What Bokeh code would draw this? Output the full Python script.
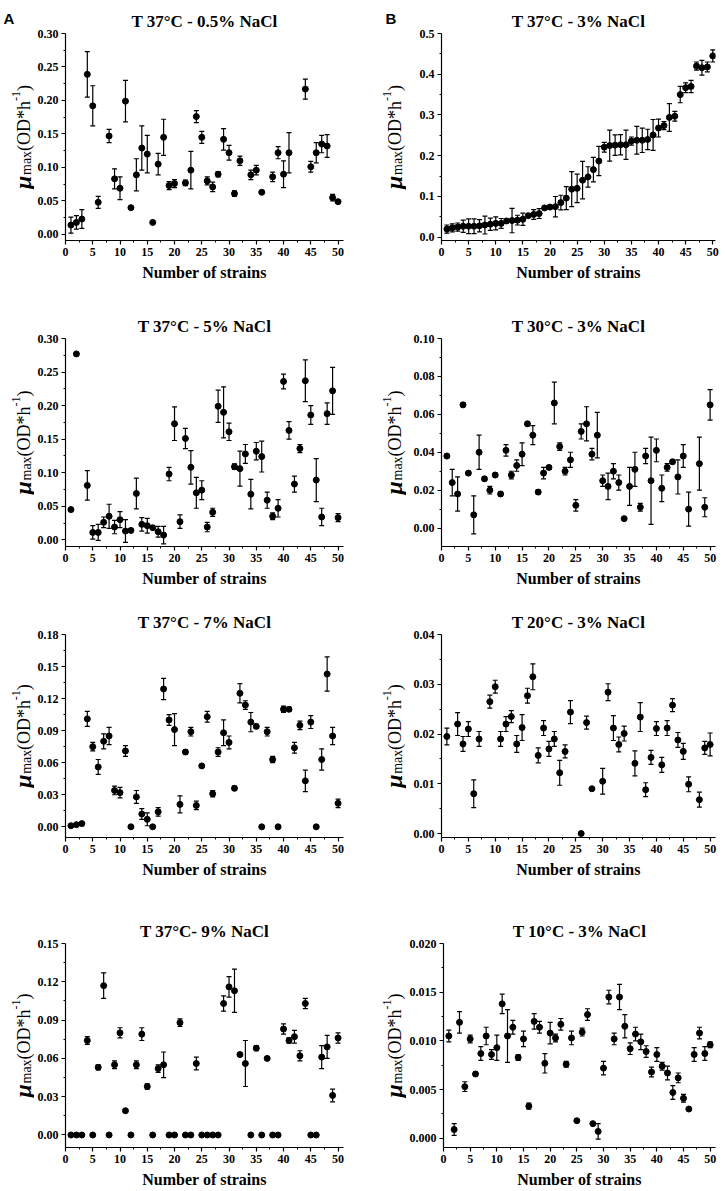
import math
from bokeh.plotting import figure
from bokeh.models import (ColumnDataSource, Whisker, TeeHead, FixedTicker,
                          PrintfTickFormatter, Range1d)
from bokeh.layouts import column, row
from bokeh.core.properties import value
from bokeh.embed import file_html
from bokeh.resources import INLINE

strains = list(range(1, 51))
x_ticks = [0, 5, 10, 15, 20, 25, 30, 35, 40, 45, 50]
x_label = "Number of strains"

# ---------------- A: T 37°C - 0.5% NaCl ----------------
a1_title = "T 37°C - 0.5% NaCl"
a1_mu = [0.014, 0.018, 0.023, 0.239, 0.192, 0.048, None, 0.147, 0.083, 0.069,
         0.199, 0.040, 0.089, 0.129, 0.120, 0.018, 0.105, 0.145, 0.073, 0.076,
         None, 0.077, 0.096, 0.176, 0.145, 0.080, 0.071, 0.090, 0.142, 0.122,
         0.061, 0.110, None, 0.089, 0.096, 0.063, None, 0.086, 0.122, 0.090,
         0.122, None, None, 0.217, 0.101, 0.122, 0.135, 0.132, 0.055, 0.049]
a1_err = [0.012, 0.010, 0.014, 0.034, 0.030, 0.009, None, 0.010, 0.015, 0.017,
          0.031, 0.002, 0.024, 0.033, 0.028, 0.002, 0.016, 0.027, 0.006, 0.006,
          None, 0.004, 0.028, 0.009, 0.009, 0.006, 0.007, 0.004, 0.016, 0.011,
          0.004, 0.007, None, 0.007, 0.007, 0.002, None, 0.007, 0.009, 0.020,
          0.030, None, None, 0.015, 0.008, 0.015, 0.013, 0.017, 0.005, 0.002]
a1_yticks = [0.00, 0.05, 0.10, 0.15, 0.20, 0.25, 0.30]

# ---------------- B: T 37°C - 3% NaCl ----------------
b1_title = "T 37°C - 3% NaCl"
b1_mu = [0.020, 0.023, 0.025, 0.027, 0.027, 0.027, 0.028, 0.030, 0.032, 0.034,
         0.034, 0.040, 0.041, 0.042, 0.044, 0.053, 0.056, 0.058, 0.072, 0.074,
         0.075, 0.085, 0.096, 0.118, 0.120, 0.140, 0.148, 0.166, 0.187, 0.221,
         0.225, 0.226, 0.227, 0.227, 0.236, 0.238, 0.238, 0.240, 0.251, 0.268,
         0.274, 0.294, 0.297, 0.350, 0.367, 0.370, 0.420, 0.416, 0.418, 0.445]
b1_err = [0.010, 0.010, 0.010, 0.015, 0.018, 0.018, 0.015, 0.022, 0.015, 0.016,
          0.012, 0.004, 0.030, 0.012, 0.015, 0.003, 0.012, 0.012, 0.004, 0.004,
          0.025, 0.018, 0.028, 0.043, 0.035, 0.046, 0.025, 0.030, 0.036, 0.012,
          0.038, 0.025, 0.025, 0.036, 0.010, 0.034, 0.030, 0.025, 0.038, 0.022,
          0.010, 0.034, 0.012, 0.020, 0.012, 0.015, 0.010, 0.018, 0.012, 0.015]
b1_yticks = [0.0, 0.1, 0.2, 0.3, 0.4, 0.5]

# ---------------- T 37°C - 5% NaCl ----------------
a2_title = "T 37°C - 5% NaCl"
a2_mu = [0.045, 0.277, None, 0.081, 0.011, 0.011, 0.026, 0.035, 0.019, 0.030,
         0.013, 0.014, 0.069, 0.023, 0.021, 0.018, 0.012, 0.007, 0.098, 0.173,
         0.027, 0.151, 0.108, 0.070, 0.074, 0.019, 0.041, 0.199, 0.190, 0.161,
         0.109, 0.106, 0.128, 0.068, 0.132, 0.124, 0.059, 0.035, 0.047, 0.236,
         0.163, 0.083, 0.136, 0.237, 0.186, 0.089, 0.034, 0.188, 0.222, 0.033]
a2_err = [0.002, 0.002, None, 0.022, 0.010, 0.012, 0.008, 0.018, 0.010, 0.012,
          0.017, 0.002, 0.023, 0.010, 0.011, 0.002, 0.008, 0.013, 0.010, 0.025,
          0.010, 0.015, 0.025, 0.023, 0.014, 0.007, 0.006, 0.024, 0.038, 0.013,
          0.004, 0.026, 0.014, 0.022, 0.013, 0.023, 0.012, 0.005, 0.013, 0.011,
          0.013, 0.012, 0.006, 0.031, 0.014, 0.032, 0.013, 0.016, 0.035, 0.006]
a2_yticks = [0.00, 0.05, 0.10, 0.15, 0.20, 0.25, 0.30]

# ---------------- T 30°C - 3% NaCl ----------------
b2_title = "T 30°C - 3% NaCl"
b2_mu = [0.038, 0.024, 0.018, 0.065, 0.029, 0.007, 0.040, 0.026, 0.020, 0.028,
         0.018, 0.041, 0.028, 0.033, 0.039, 0.055, 0.049, 0.019, 0.029, 0.032,
         0.066, 0.043, 0.030, 0.036, 0.012, 0.051, 0.055, 0.039, 0.049, 0.025,
         0.022, 0.030, 0.024, 0.005, 0.022, 0.031, 0.011, 0.038, 0.025, 0.041,
         0.021, 0.032, 0.035, 0.027, 0.038, 0.010, None, 0.034, 0.011, 0.065]
b2_err = [0.001, 0.007, 0.009, 0.001, 0.001, 0.010, 0.009, 0.001, 0.002, 0.001,
          0.001, 0.003, 0.002, 0.003, 0.006, 0.001, 0.005, 0.001, 0.003, 0.001,
          0.011, 0.002, 0.002, 0.004, 0.003, 0.004, 0.009, 0.003, 0.012, 0.003,
          0.007, 0.004, 0.004, 0.000, 0.010, 0.009, 0.002, 0.004, 0.023, 0.006,
          0.007, 0.002, 0.001, 0.009, 0.006, 0.009, None, 0.014, 0.005, 0.008]
b2_yticks = [0.00, 0.02, 0.04, 0.06, 0.08, 0.10]

# ---------------- T 37°C - 7% NaCl ----------------
a3_title = "T 37°C - 7% NaCl"
a3_mu = [0.001, 0.002, 0.003, 0.101, 0.075, 0.056, 0.080, 0.085, 0.034, 0.032,
         0.071, 0.000, 0.028, 0.012, 0.007, 0.000, 0.014, 0.129, 0.100, 0.091,
         0.021, 0.070, 0.089, 0.020, 0.057, 0.103, 0.031, 0.070, 0.088, 0.079,
         0.036, 0.125, 0.114, 0.098, 0.094, 0.000, 0.089, 0.063, 0.000, 0.110,
         0.110, 0.074, 0.095, 0.043, 0.098, 0.000, 0.063, 0.143, 0.085, 0.022]
a3_err = [0.000, 0.000, 0.001, 0.007, 0.004, 0.007, 0.007, 0.008, 0.004, 0.005,
          0.005, 0.000, 0.006, 0.005, 0.006, 0.000, 0.004, 0.010, 0.005, 0.015,
          0.008, 0.002, 0.004, 0.004, 0.001, 0.005, 0.003, 0.004, 0.012, 0.006,
          0.002, 0.009, 0.004, 0.009, 0.002, 0.000, 0.004, 0.003, 0.000, 0.003,
          0.002, 0.005, 0.004, 0.010, 0.006, 0.000, 0.010, 0.016, 0.008, 0.004]
a3_yticks = [0.00, 0.03, 0.06, 0.09, 0.12, 0.15, 0.18]

# ---------------- T 20°C - 3% NaCl ----------------
b3_title = "T 20°C - 3% NaCl"
b3_mu = [0.0195, None, 0.0220, 0.0180, 0.0210, 0.0080, 0.0190, None, 0.0265, 0.0295,
         0.0190, 0.0220, 0.0235, 0.0180, 0.0213, 0.0277, 0.0315, 0.0157, 0.0212, 0.0170,
         0.0190, 0.0122, 0.0165, 0.0244, None, 0.0000, 0.0223, 0.0090, None, 0.0105,
         0.0284, 0.0212, 0.0179, 0.0201, None, 0.0141, 0.0234, 0.0088, 0.0153, 0.0211,
         0.0138, 0.0212, 0.0258, 0.0188, 0.0165, 0.0099, None, 0.0068, 0.0172, 0.0179]
b3_err = [0.0017, None, 0.0023, 0.0015, 0.0015, 0.0028, 0.0015, None, 0.0013, 0.0013,
          0.0015, 0.0015, 0.0012, 0.0017, 0.0026, 0.0015, 0.0026, 0.0015, 0.0015, 0.0015,
          0.0015, 0.0025, 0.0013, 0.0023, None, 0.0000, 0.0013, 0.0002, None, 0.0026,
          0.0017, 0.0025, 0.0015, 0.0015, None, 0.0025, 0.0029, 0.0014, 0.0014, 0.0014,
          0.0015, 0.0015, 0.0013, 0.0015, 0.0016, 0.0015, None, 0.0015, 0.0013, 0.0023]
b3_yticks = [0.00, 0.01, 0.02, 0.03, 0.04]

# ---------------- T 37°C- 9% NaCl ----------------
a4_title = "T 37°C- 9% NaCl"
a4_mu = [0.000, 0.000, 0.000, 0.074, 0.000, 0.053, 0.117, 0.000, 0.055, 0.080,
         0.019, 0.000, 0.055, 0.079, 0.038, 0.000, 0.052, 0.055, 0.000, 0.000,
         0.088, 0.000, 0.000, 0.056, 0.000, 0.000, 0.000, 0.000, 0.103, 0.116,
         0.113, 0.063, 0.056, 0.000, 0.068, 0.000, 0.060, 0.000, 0.000, 0.083,
         0.074, 0.077, 0.062, 0.103, 0.000, 0.000, 0.061, 0.069, 0.031, 0.076]
a4_err = [0.000, 0.000, 0.000, 0.003, 0.000, 0.002, 0.010, 0.000, 0.003, 0.004,
          0.001, 0.000, 0.003, 0.005, 0.002, 0.000, 0.003, 0.010, 0.000, 0.000,
          0.003, 0.000, 0.000, 0.005, 0.000, 0.000, 0.000, 0.000, 0.006, 0.008,
          0.017, 0.001, 0.018, 0.000, 0.002, 0.000, 0.001, 0.000, 0.000, 0.004,
          0.002, 0.005, 0.004, 0.004, 0.000, 0.000, 0.009, 0.009, 0.005, 0.004]
a4_yticks = [0.00, 0.03, 0.06, 0.09, 0.12, 0.15]

# ---------------- T 10°C - 3% NaCl ----------------
b4_title = "T 10°C - 3% NaCl"
b4_mu = [0.0105, 0.0009, 0.0119, 0.0053, 0.0102, 0.0066, 0.0087, 0.0105, 0.0086, 0.0093,
         0.0138, 0.0105, 0.0114, 0.0083, 0.0102, 0.0033, 0.0120, 0.0114, 0.0077, 0.0108,
         0.0103, 0.0117, 0.0076, 0.0103, 0.0018, 0.0109, 0.0127, 0.0015, 0.0007, 0.0072,
         0.0145, 0.0102, 0.0145, 0.0115, 0.0092, 0.0107, 0.0099, 0.0089, 0.0068, 0.0086,
         0.0074, 0.0067, 0.0047, 0.0062, 0.0041, 0.0030, 0.0086, 0.0108, 0.0087, 0.0096]
b4_err = [0.0006, 0.0006, 0.0011, 0.0005, 0.0004, 0.0002, 0.0007, 0.0009, 0.0005, 0.0013,
          0.0010, 0.0027, 0.0007, 0.0003, 0.0008, 0.0003, 0.0008, 0.0006, 0.0010, 0.0011,
          0.0004, 0.0006, 0.0003, 0.0007, 0.0001, 0.0004, 0.0006, 0.0001, 0.0008, 0.0007,
          0.0007, 0.0006, 0.0013, 0.0012, 0.0006, 0.0007, 0.0008, 0.0006, 0.0005, 0.0007,
          0.0004, 0.0007, 0.0007, 0.0005, 0.0004, 0.0001, 0.0007, 0.0006, 0.0007, 0.0003]
b4_yticks = [0.000, 0.005, 0.010, 0.015, 0.020]

SERIF = "Liberation Serif"

# y-label pieces: text, size, style, baseline shift (px, + = down the text), advance (px)
ylabel_parts = [("μ", "24px", "bold italic", -1, 14),
                ("max", "14px", "normal", 3, 24),
                ("(OD*h", "18px", "normal", 0, 50),
                ("-1", "12px", "normal", -8, 10),
                (")", "18px", "normal", 0, 6)]


def label_fig(width, height, bt, bb, baseline_x, letter=None, letter_x=0):
    # the row aligns this figure's frame with the neighbouring panel's frame,
    # so map the data y to pixels measured from the figure bottom
    p = figure(width=width, height=height, output_backend="svg", toolbar_location=None,
               x_range=Range1d(0, width), y_range=Range1d(bb, height - bt),
               x_axis_type=None, y_axis_type=None,
               title=letter if letter else None,
               min_border=0, min_border_left=0, min_border_right=0,
               min_border_top=bt, min_border_bottom=bb)
    p.outline_line_color = None
    if letter:
        p.title.text_font = "Liberation Sans"
        p.title.text_font_style = "bold"
        p.title.text_font_size = "15px"
        p.title.text_color = "black"
        p.title.align = "left"
        p.title.offset = letter_x
        p.title.standoff = 14
    center_y = bb + (height - bt - bb) / 2
    total = sum(pt[4] for pt in ylabel_parts)
    y = center_y - total / 2
    for txt, size, style, dx, adv in ylabel_parts:
        p.text(x=[baseline_x + dx], y=[y], text=[txt], angle=math.pi / 2,
               text_font=value(SERIF), text_font_size=value(size),
               text_font_style=style, text_color="black",
               text_baseline="alphabetic", text_align="left")
        y += adv
    return p


def make_panel(title, mu, err, yticks, y_lo, fmt, x_hi, width, height,
               b_left, b_right, b_top, b_bottom):
    xs, ys, up, lo = [], [], [], []
    for s, m, e in zip(strains, mu, err):
        if m is None:
            continue
        xs.append(s)
        ys.append(m)
        up.append(m + e)
        lo.append(m - e)
    src = ColumnDataSource(dict(x=xs, y=ys, upper=up, lower=lo))
    p = figure(width=width, height=height, output_backend="svg", toolbar_location=None,
               x_range=Range1d(0, x_hi), y_range=Range1d(y_lo, yticks[-1]),
               min_border_left=b_left, min_border_right=b_right,
               min_border_top=b_top, min_border_bottom=b_bottom,
               title=title)
    p.title.text_font = SERIF
    p.title.text_font_style = "bold"
    p.title.text_font_size = "17px"
    p.title.text_color = "black"
    p.title.align = "center"
    p.title.standoff = 5
    p.outline_line_color = None
    p.xgrid.visible = False
    p.ygrid.visible = False

    wh = Whisker(source=src, base="x", upper="upper", lower="lower", dimension="height",
                 line_color="black", line_width=1.2,
                 upper_head=TeeHead(size=5, line_color="black", line_width=1.2),
                 lower_head=TeeHead(size=5, line_color="black", line_width=1.2))
    p.add_layout(wh)
    p.scatter("x", "y", source=src, size=6, marker="circle", color="black")

    step = yticks[1] - yticks[0]
    p.yaxis.ticker = FixedTicker(ticks=yticks,
                                 minor_ticks=[t + step / 2 for t in yticks[:-1]])
    p.xaxis.ticker = FixedTicker(ticks=x_ticks, minor_ticks=[t + 2.5 for t in x_ticks[:-1]])
    p.yaxis.formatter = PrintfTickFormatter(format=fmt)
    for ax in (p.xaxis, p.yaxis):
        ax.axis_line_color = "black"
        ax.axis_line_width = 1.2
        ax.major_tick_line_color = "black"
        ax.major_tick_line_width = 1.2
        ax.minor_tick_line_color = "black"
        ax.major_tick_in = 0
        ax.major_tick_out = 4
        ax.minor_tick_in = 0
        ax.minor_tick_out = 2
        ax.major_label_text_font = SERIF
        ax.major_label_text_font_style = "bold"
        ax.major_label_text_font_size = "12px"
        ax.major_label_text_color = "black"
        ax.major_label_standoff = 3
    p.xaxis.axis_label = x_label
    p.xaxis.axis_label_text_font = SERIF
    p.xaxis.axis_label_text_font_style = "bold"
    p.xaxis.axis_label_text_font_size = "16px"
    p.xaxis.axis_label_text_color = "black"
    p.xaxis.axis_label_standoff = 5
    return p


# column geometry (px)
LAB_L_W, PAN_L_W, LAB_R_W, PAN_R_W = 34, 318, 54, 319
PAN_L_BORD = (31, 9)
PAN_R_BORD = (35, 10)
# rows: (height, border_top, border_bottom)
rows_geom = [(290, 33, 50), (300, 48, 44), (290, 44, 42), (311, 63, 44)]

panels = [
    (a1_title, a1_mu, a1_err, a1_yticks, -0.009, "%.2f", 51,
     b1_title, b1_mu, b1_err, b1_yticks, -0.008, "%.1f", 50.5),
    (a2_title, a2_mu, a2_err, a2_yticks, -0.010, "%.2f", 51,
     b2_title, b2_mu, b2_err, b2_yticks, -0.0097, "%.2f", 51),
    (a3_title, a3_mu, a3_err, a3_yticks, -0.010, "%.2f", 51,
     b3_title, b3_mu, b3_err, b3_yticks, -0.0008, "%.2f", 51),
    (a4_title, a4_mu, a4_err, a4_yticks, -0.0098, "%.2f", 51,
     b4_title, b4_mu, b4_err, b4_yticks, -0.00095, "%.3f", 51),
]

rows = []
for i, (pan, geom) in enumerate(zip(panels, rows_geom)):
    h, bt, bb = geom
    lt, lm, le, lyt, llo, lfmt, lxh, rt, rm, re_, ryt, rlo, rfmt, rxh = pan
    labl = label_fig(LAB_L_W, h, bt, bb, 23, "A" if i == 0 else None, 3)
    pl = make_panel(lt, lm, le, lyt, llo, lfmt, lxh, PAN_L_W, h,
                    PAN_L_BORD[0], PAN_L_BORD[1], bt, bb)
    labr = label_fig(LAB_R_W, h, bt, bb, 42, "B" if i == 0 else None, 33)
    pr = make_panel(rt, rm, re_, ryt, rlo, rfmt, rxh, PAN_R_W, h,
                    PAN_R_BORD[0], PAN_R_BORD[1], bt, bb)
    rows.append(row(labl, pl, labr, pr))

layout = column(*rows)
open("out.html", "w").write(file_html(layout, INLINE))
